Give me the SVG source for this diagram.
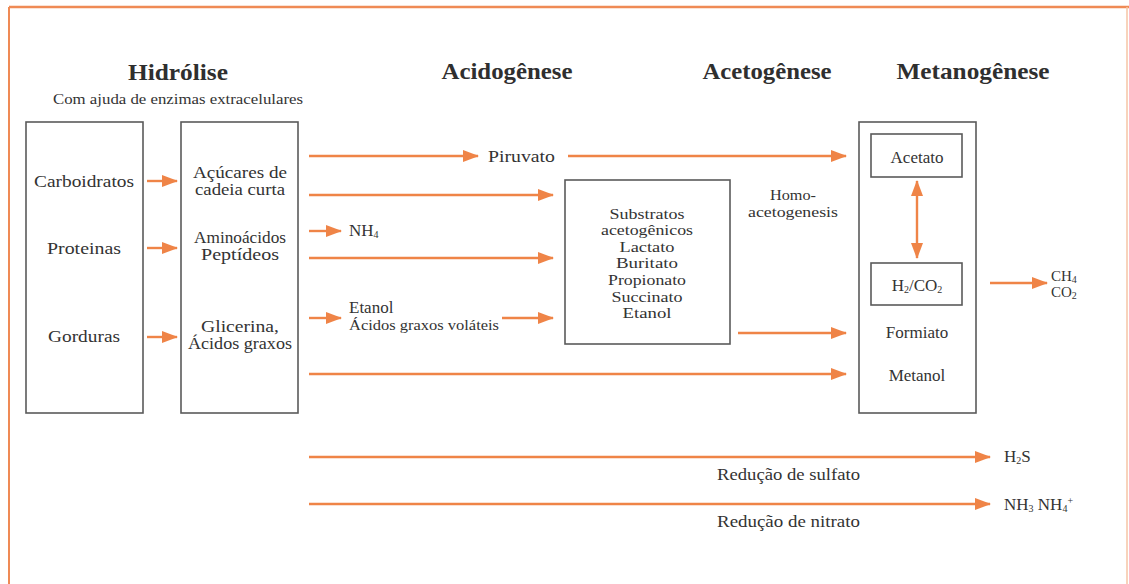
<svg xmlns="http://www.w3.org/2000/svg" width="1129" height="584" viewBox="0 0 1129 584">
<defs>
<marker id="ah" markerUnits="userSpaceOnUse" markerWidth="16" markerHeight="12" viewBox="0 0 16 12" refX="15" refY="6" orient="auto-start-reverse">
<path d="M0,0 L16,6 L0,12 Z" fill="#ef8447"/>
</marker>
<style>
text{font-family:"Liberation Serif","DejaVu Serif",serif;fill:#333;font-size:17px}
.t{font-size:24px;font-weight:bold;fill:#2f2f2f}
.c{text-anchor:middle}
.s{font-size:15px}
.m{font-size:15px}
.box{fill:none;stroke:#5a5a5a;stroke-width:1.6}
.a{stroke:#ef8447;stroke-width:2.4;fill:none;marker-end:url(#ah)}
.sub{font-size:10px}
</style>
</defs>
<rect width="1129" height="584" fill="#ffffff"/>
<g id="frame">
<line x1="9" y1="7" x2="1129" y2="7" stroke="#ef8a55" stroke-width="2.4"/>
<line x1="9" y1="7" x2="9" y2="584" stroke="#ef8a55" stroke-width="2"/>
<line x1="1127" y1="7" x2="1127" y2="584" stroke="#f6c4a4" stroke-width="1.5"/>
</g>
<g id="titles">
<text class="t c" x="178" y="80" textLength="100" lengthAdjust="spacingAndGlyphs">Hidrólise</text>
<text class="s c" x="178" y="104" textLength="250" lengthAdjust="spacingAndGlyphs">Com ajuda de enzimas extracelulares</text>
<text class="t c" x="507" y="79" textLength="131" lengthAdjust="spacingAndGlyphs">Acidogênese</text>
<text class="t c" x="767" y="79" textLength="129" lengthAdjust="spacingAndGlyphs">Acetogênese</text>
<text class="t c" x="973" y="79" textLength="153" lengthAdjust="spacingAndGlyphs">Metanogênese</text>
</g>
<g id="substrates">
<rect class="box" x="26" y="122" width="117" height="291"/>
<text class="c" x="84" y="187" textLength="100" lengthAdjust="spacingAndGlyphs">Carboidratos</text>
<text class="c" x="84" y="254" textLength="74" lengthAdjust="spacingAndGlyphs">Proteinas</text>
<text class="c" x="84" y="342" textLength="72" lengthAdjust="spacingAndGlyphs">Gorduras</text>
</g>
<g id="monomers">
<rect class="box" x="181" y="122" width="117" height="291"/>
<text class="c" x="240" y="178" textLength="94" lengthAdjust="spacingAndGlyphs">Açúcares de</text>
<text class="c" x="240" y="195" textLength="90" lengthAdjust="spacingAndGlyphs">cadeia curta</text>
<text class="c" x="240" y="243" textLength="92" lengthAdjust="spacingAndGlyphs">Aminoácidos</text>
<text class="c" x="240" y="260" textLength="78" lengthAdjust="spacingAndGlyphs">Peptídeos</text>
<text class="c" x="240" y="332" textLength="78" lengthAdjust="spacingAndGlyphs">Glicerina,</text>
<text class="c" x="240" y="349" textLength="104" lengthAdjust="spacingAndGlyphs">Ácidos graxos</text>
</g>
<g id="piruvato">
<text x="488" y="162" textLength="67" lengthAdjust="spacingAndGlyphs">Piruvato</text>
</g>
<g id="nh4">
<text x="349" y="236">NH<tspan class="sub" dy="2">4</tspan></text>
</g>
<g id="etanol">
<text x="349" y="313">Etanol</text>
<text class="s" x="349" y="330" textLength="150" lengthAdjust="spacingAndGlyphs">Ácidos graxos voláteis</text>
</g>
<g id="substratos">
<rect class="box" x="565" y="180" width="165" height="164"/>
<text class="c m" x="647" y="219" textLength="75" lengthAdjust="spacingAndGlyphs">Substratos</text>
<text class="c m" x="647" y="235" textLength="92" lengthAdjust="spacingAndGlyphs">acetogênicos</text>
<text class="c m" x="647" y="252" textLength="55" lengthAdjust="spacingAndGlyphs">Lactato</text>
<text class="c m" x="647" y="268" textLength="62" lengthAdjust="spacingAndGlyphs">Buritato</text>
<text class="c m" x="647" y="285" textLength="78" lengthAdjust="spacingAndGlyphs">Propionato</text>
<text class="c m" x="647" y="302" textLength="71" lengthAdjust="spacingAndGlyphs">Succinato</text>
<text class="c m" x="647" y="318" textLength="49" lengthAdjust="spacingAndGlyphs">Etanol</text>
</g>
<g id="homo">
<text class="c m" x="793" y="200" textLength="46" lengthAdjust="spacingAndGlyphs">Homo-</text>
<text class="c m" x="793" y="217" textLength="90" lengthAdjust="spacingAndGlyphs">acetogenesis</text>
</g>
<g id="metanogenese">
<rect class="box" x="859" y="122" width="117" height="291"/>
</g>
<g id="acetato">
<rect class="box" x="871" y="134" width="91" height="43"/>
<text class="c" x="917" y="163">Acetato</text>
</g>
<g id="h2co2">
<rect class="box" x="871" y="263" width="91" height="42"/>
<text class="c" x="917" y="291">H<tspan class="sub" dy="2">2</tspan><tspan dy="-2">/CO</tspan><tspan class="sub" dy="2">2</tspan></text>
</g>
<g id="formiato">
<text class="c" x="917" y="338">Formiato</text>
</g>
<g id="metanol">
<text class="c" x="917" y="381">Metanol</text>
</g>
<g id="ch4">
<text class="m" x="1051" y="281">CH<tspan class="sub" dy="2">4</tspan></text>
<text class="m" x="1051" y="297">CO<tspan class="sub" dy="2">2</tspan></text>
</g>
<g id="h2s">
<text x="1004" y="462">H<tspan class="sub" dy="2">2</tspan><tspan dy="-2">S</tspan></text>
<text x="717" y="480" textLength="143" lengthAdjust="spacingAndGlyphs">Redução de sulfato</text>
</g>
<g id="nh3">
<text x="1004" y="510">NH<tspan class="sub" dy="2">3</tspan><tspan dy="-2"> NH</tspan><tspan class="sub" dy="2">4</tspan><tspan class="sub" dy="-8">+</tspan></text>
<text x="717" y="527" textLength="143" lengthAdjust="spacingAndGlyphs">Redução de nitrato</text>
</g>
<g id="connectors">
<line class="a" x1="147" y1="181" x2="177" y2="181"/>
<line class="a" x1="147" y1="248" x2="177" y2="248"/>
<line class="a" x1="147" y1="337" x2="177" y2="337"/>
<line class="a" x1="309" y1="156" x2="478" y2="156"/>
<line class="a" x1="568" y1="156" x2="846" y2="156"/>
<line class="a" x1="309" y1="195" x2="553" y2="195"/>
<line class="a" x1="309" y1="231" x2="341" y2="231"/>
<line class="a" x1="309" y1="258" x2="553" y2="258"/>
<line class="a" x1="309" y1="318" x2="341" y2="318"/>
<line class="a" x1="502" y1="318" x2="553" y2="318"/>
<line class="a" x1="738" y1="333" x2="846" y2="333"/>
<line class="a" x1="309" y1="374" x2="846" y2="374"/>
<line class="a" x1="917" y1="181" x2="917" y2="258" style="marker-start:url(#ah)"/>
<line class="a" x1="990" y1="283" x2="1047" y2="283"/>
<line class="a" x1="309" y1="457" x2="990" y2="457"/>
<line class="a" x1="309" y1="504" x2="990" y2="504"/>
</g>
</svg>
